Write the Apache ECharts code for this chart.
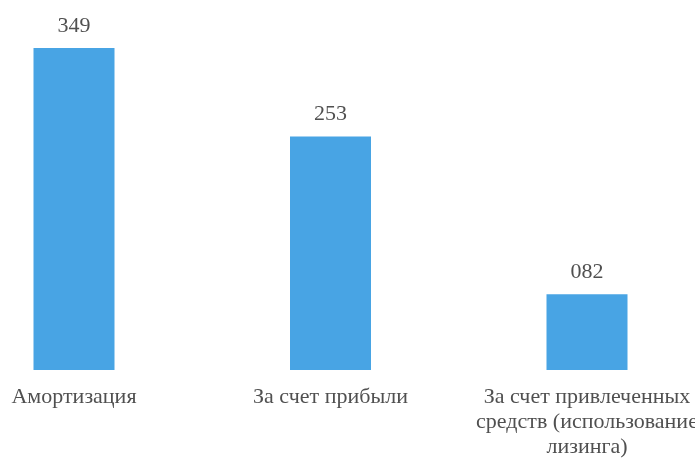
<!DOCTYPE html>
<html><head><meta charset="utf-8">
<script src="https://cdn.jsdelivr.net/npm/echarts@6/dist/echarts.min.js"></script>
<style>html,body{margin:0;padding:0;background:#fff}#c{width:695px;height:459px}</style>
</head><body><div id="c"></div>
<script>
var categories = ["Амортизация", "За счет прибыли", "За счет привлеченных\nсредств (использование\nлизинга)"];
var values = [349, 253, 82];
var valueLabels = ["349", "253", "082"];

var FONT = "'Liberation Serif', 'DejaVu Serif', serif";
var chart = echarts.init(document.getElementById('c'));
chart.setOption({
  animation: false,
  grid: {left: 74, right: 108, top: 48, bottom: 89, outerBoundsMode: 'none', containLabel: false},
  xAxis: {
    type: 'category', data: categories, boundaryGap: false,
    axisLine: {show: false}, axisTick: {show: false},
    axisLabel: {interval: 0, margin: 15, color: '#505050', fontFamily: FONT, fontSize: 22, lineHeight: 25, hideOverlap: false}
  },
  yAxis: {type: 'value', min: 0, max: 349, show: false, splitLine: {show: false}},
  series: [{
    type: 'bar', data: values, barWidth: 81,
    itemStyle: {color: '#48a4e4'},
    label: {show: true, position: 'top', distance: 11, color: '#505050', fontFamily: FONT, fontSize: 22,
      formatter: function(p){ return valueLabels[p.dataIndex]; }}
  }]
});
</script></body></html>
